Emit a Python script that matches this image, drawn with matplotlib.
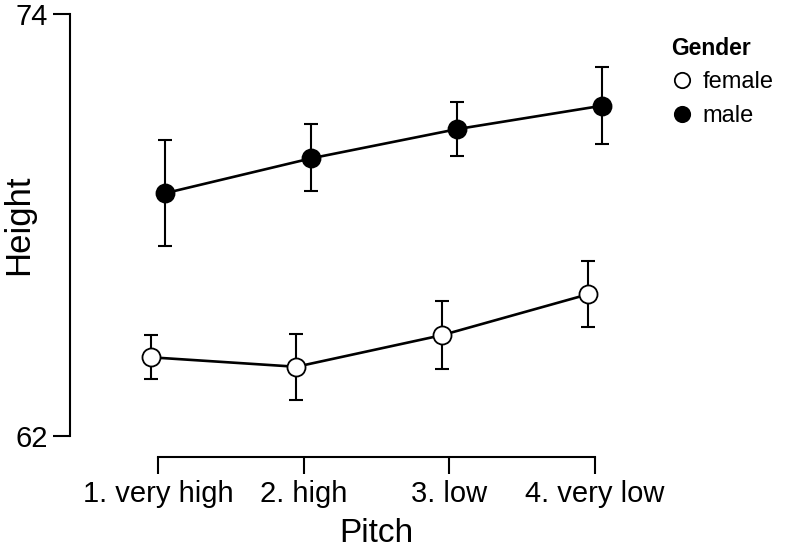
import matplotlib.pyplot as plt

plt.rcParams['font.family'] = ['Liberation Sans', 'DejaVu Sans']

# data
pitch = ['1. very high', '2. high', '3. low', '4. very low']
female_mean = [64.24, 63.97, 64.87, 66.03]
female_lo = [63.61, 63.02, 63.91, 65.10]
female_hi = [64.87, 64.89, 65.83, 66.97]
male_mean = [68.91, 69.90, 70.73, 71.40]
male_lo = [67.41, 68.97, 69.96, 70.31]
male_hi = [70.42, 70.87, 71.50, 72.50]

fig = plt.figure(figsize=(7.86, 5.48), dpi=100)
# axes box in pixels: x 70..683, y 14..436
ax = fig.add_axes([70/786, (548-436)/548, (683-70)/786, (436-14.3)/548])

x = [1, 2, 3, 4]
dodge = 0.05

def draw(means, lo, hi, shift, face, label):
    xs = [v + shift for v in x]
    err = [[m - l for m, l in zip(means, lo)], [h - m for m, h in zip(means, hi)]]
    ax.errorbar(xs, means, yerr=err, fmt='none', ecolor='black', elinewidth=1.5,
                capsize=5, capthick=1.5, zorder=2)
    ax.plot(xs, means, '-', color='black', lw=1.9, zorder=3)
    ax.plot(xs, means, 'o', ms=13, mfc=face, mec='black', mew=1.3, zorder=4,
            label=label)

draw(female_mean, female_lo, female_hi, -dodge, 'white', 'female')
draw(male_mean, male_lo, male_hi, dodge, 'black', 'male')

ax.set_xlim(0.396, 4.604)
ax.set_ylim(62, 74)

ax.spines['right'].set_color('none')
ax.spines['top'].set_color('none')
ax.spines['left'].set_bounds(62, 74)
ax.spines['bottom'].set_bounds(1, 4)
ax.spines['bottom'].set_position(('outward', 15))
ax.spines['left'].set_linewidth(1.5)
ax.spines['bottom'].set_linewidth(1.5)

ax.set_yticks([62, 74])
ax.set_xticks(x)
ax.set_xticklabels(pitch)
ax.tick_params(axis='both', length=12, width=1.5, labelsize=21, direction='out')
ax.tick_params(axis='y', pad=4)
ax.tick_params(axis='x', pad=5)

ax.set_xlabel('Pitch', fontsize=24)
ax.xaxis.set_label_coords(0.5, -(533-436)/(436-14.3))
ax.xaxis.label.set_va('center')
ax.set_ylabel('Height', fontsize=25)
ax.yaxis.set_label_coords(-(70-35)/613, 0.5)

leg = ax.legend(title='Gender', loc='upper left', bbox_to_anchor=(655/786, 1 - 20/548),
                bbox_transform=fig.transFigure, frameon=False, fontsize=17,
                title_fontproperties={'weight': 'bold', 'size': 16.5},
                alignment='left', handletextpad=0.4, labelspacing=0.5,
                markerscale=0.85, handlelength=0.9, borderpad=0.2)

fig.savefig('out.png', dpi=100)
